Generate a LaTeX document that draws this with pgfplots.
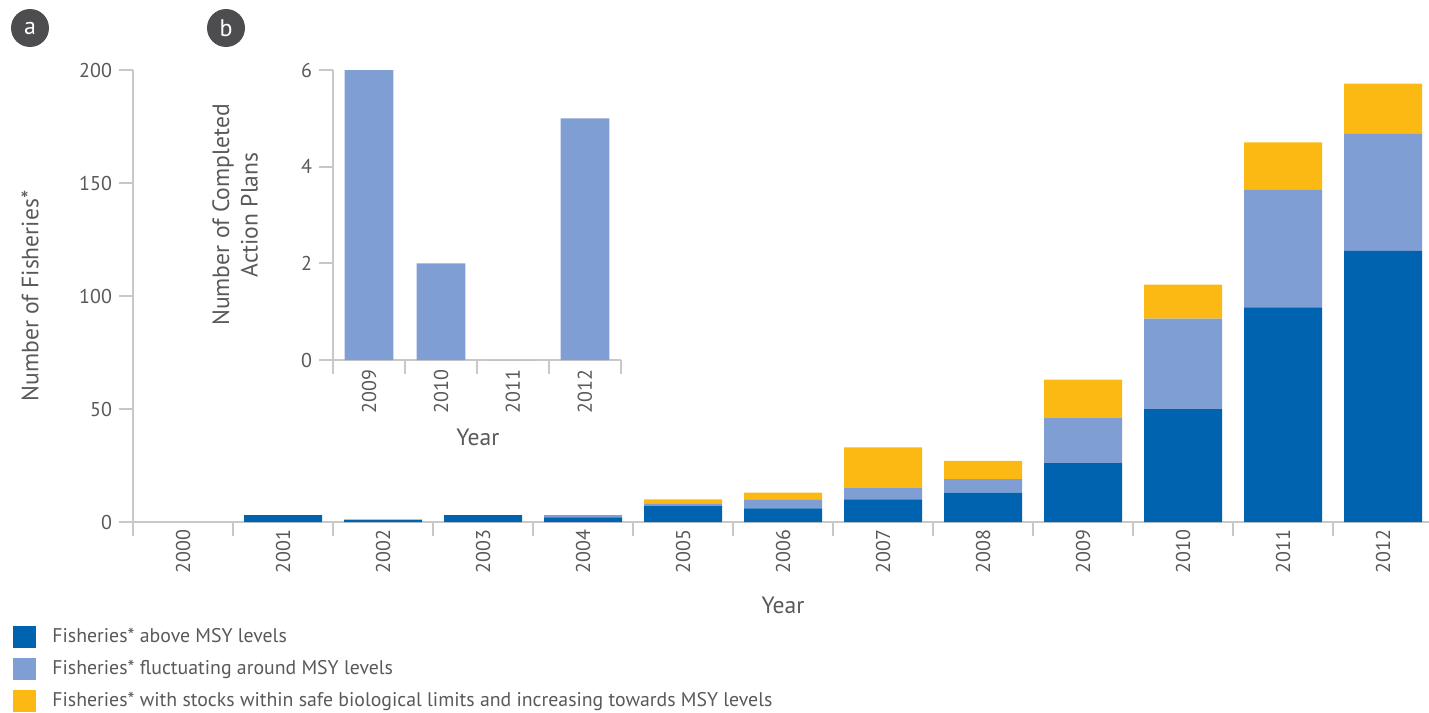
\documentclass[border=0pt]{standalone}
\usepackage{pgfplots}
\pgfplotsset{compat=1.18}
\usepackage{fontspec}
\setmainfont{PT Sans}
\definecolor{dblue}{HTML}{0063AF}
\definecolor{lblue}{HTML}{7F9ED3}
\definecolor{orng}{HTML}{FDB913}
\definecolor{txt}{HTML}{58595B}
\definecolor{axg}{HTML}{C8C8C8}
\definecolor{circ}{HTML}{4D4D4F}
\begin{document}
\begin{tikzpicture}
\useasboundingbox (0,0) rectangle (714.5pt,-356pt);
\pgfplotsset{
  mystyle/.style={
    scale only axis,
    axis lines=left,
    axis line style={-, draw=axg, line width=1pt},
    tick style={draw=axg, line width=1pt},
    tick align=outside,
    major tick length=7pt,
    /pgf/number format/assume math mode=true,
    ticklabel style={font=\fontsize{10}{12}\selectfont, text=txt},
    label style={font=\fontsize{11.8}{14.25}\selectfont, text=txt},
    x tick label as interval,
    ytick pos=left, xtick pos=bottom,
  }
}
% main chart
\begin{axis}[mystyle,
  at={(66.5pt,-261pt)}, anchor=south west,
  width=650pt, height=226pt,
  xmin=-0.5, xmax=12.5, ymin=0, ymax=200,
  ybar stacked, bar width=0.78,
  xtick={-0.5,0.5,...,12.5},
  xticklabels={2000,2001,2002,2003,2004,2005,2006,2007,2008,2009,2010,2011,2012},
  xticklabel style={yshift=6.5pt, rotate=90, anchor=east},
  ytick={0,50,100,150,200},
  xlabel={Year}, ylabel={Number of Fisheries*},
  xlabel style={at={(axis description cs:0.5,-0.1836)}, anchor=center},
  ylabel style={at={(axis description cs:-0.0792,0.5)}, anchor=center},
  legend style={at={(axis description cs:-0.0923,-0.2257)}, anchor=north west,
    draw=none, fill=none, font=\fontsize{9.9}{12}\selectfont, text=txt,
    row sep=3.5pt, inner sep=0pt,
    /tikz/every odd column/.append style={column sep=6pt}},
  legend cell align=left,
]
\addplot[fill=dblue, draw=none, legend image code/.code={\fill[dblue] (0pt,-5.5pt) rectangle (11.5pt,5.5pt);}]
  coordinates {(0,0) (1,3) (2,1) (3,3) (4,2) (5,7) (6,6) (7,10) (8,13) (9,26) (10,50) (11,95) (12,120)};
\addplot[fill=lblue, draw=none, legend image code/.code={\fill[lblue] (0pt,-5.5pt) rectangle (11.5pt,5.5pt);}]
  coordinates {(0,0) (1,0) (2,0) (3,0) (4,1) (5,1) (6,4) (7,5) (8,6) (9,20) (10,40) (11,52) (12,52)};
\addplot[fill=orng, draw=none, legend image code/.code={\fill[orng] (0pt,-5.5pt) rectangle (11.5pt,5.5pt);}]
  coordinates {(0,0) (1,0) (2,0) (3,0) (4,0) (5,2) (6,3) (7,18) (8,8) (9,17) (10,15) (11,21) (12,22)};
\legend{Fisheries* above MSY levels,
        Fisheries* fluctuating around MSY levels,
        Fisheries* with stocks within safe biological limits and increasing towards MSY levels}
\end{axis}
% inset
\begin{axis}[mystyle,
  at={(166.5pt,-180pt)}, anchor=south west,
  width=144pt, height=145pt,
  xmin=-0.5, xmax=3.5, ymin=0, ymax=6,
  ybar, bar width=0.68,
  xtick={-0.5,0.5,...,3.5},
  xticklabels={2009,2010,2011,2012},
  xticklabel style={yshift=5.5pt, rotate=90, anchor=east},
  ytick={0,2,4,6},
  xlabel={Year}, ylabel={Number of Completed\\Action Plans},
  xlabel style={at={(axis description cs:0.503,-0.268)}, anchor=center},
  ylabel style={at={(axis description cs:-0.340,0.5)}, anchor=center, align=center},
]
\addplot[fill=lblue, draw=none] coordinates {(0,6) (1,2) (2,0) (3,5)};
\end{axis}
\node[circle, fill=circ, minimum size=19pt, inner sep=0pt, text=white, font=\fontsize{12}{12}\selectfont] at (15pt,-14pt) {a};
\node[circle, fill=circ, minimum size=19pt, inner sep=0pt, text=white, font=\fontsize{12}{12}\selectfont] at (113pt,-14pt) {b};
\end{tikzpicture}
\end{document}
